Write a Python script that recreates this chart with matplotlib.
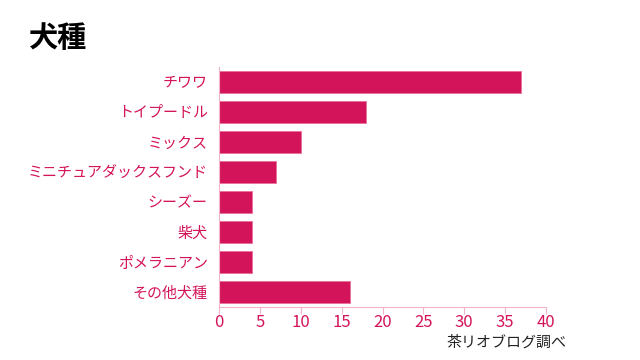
import matplotlib
matplotlib.use("Agg")
import matplotlib.pyplot as plt

plt.rcParams['font.family'] = ['Noto Sans CJK JP', 'DejaVu Sans']

categories = ["チワワ", "トイプードル", "ミックス", "ミニチュアダックスフンド",
              "シーズー", "柴犬", "ポメラニアン", "その他犬種"]
values = [37, 18, 10, 7, 4, 4, 4, 16]
xticks = [0, 5, 10, 15, 20, 25, 30, 35, 40]

accent = "#D4145A"
spine = "#F2B5C8"

fig = plt.figure(figsize=(6.4, 3.6), dpi=100)
ax = fig.add_axes([219/640, 1-307/360, (546-219)/640, (307-67)/360])

ypos = list(range(len(categories)))
ax.barh(ypos, values, height=0.73, color=accent, edgecolor="#E8709A", linewidth=0.6)
ax.set_ylim(len(categories)-0.5, -0.5)
ax.set_xlim(0, 40)
ax.set_yticks(ypos)
ax.set_yticklabels(categories, color=accent, fontsize=10.8)
ax.set_xticks(xticks)
ax.set_xticklabels([str(t) for t in xticks], color=accent, fontsize=12)
ax.tick_params(axis='y', length=0, pad=8)
ax.tick_params(axis='x', length=5, color=spine, pad=0)
for s in ["top", "right"]:
    ax.spines[s].set_visible(False)
ax.spines["left"].set_color(spine)
ax.spines["bottom"].set_color(spine)

fig.text(28/640, 1-38/360, "犬種", fontsize=21, fontweight='bold', color="black", va='center', ha='left')
fig.text(566/640, 1-342/360, "茶リオブログ調べ", fontsize=10.8, color="#222222", va='center', ha='right')

fig.savefig("out.png", dpi=100)
